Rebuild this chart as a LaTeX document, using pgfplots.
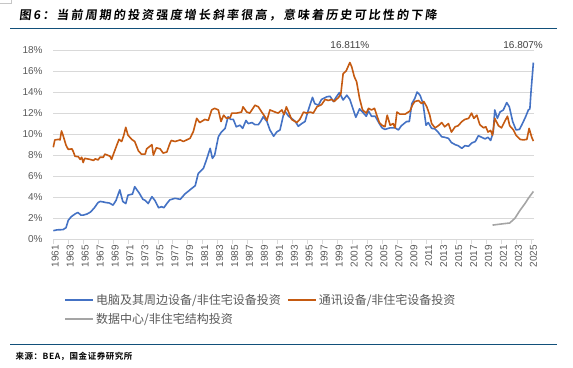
\documentclass[border=0pt]{standalone}
\usepackage{pgfplots}
\pgfplotsset{compat=1.18}
\usepackage{fontspec}
\setmainfont{Liberation Sans}
\newfontfamily\cjk{Noto Sans CJK SC}
\newfontfamily\cjktitle{Noto Sans CJK SC Bold}[FakeSlant=0.12, LetterSpace=18]
\newfontfamily\cjksrc{Noto Sans CJK SC Bold}[LetterSpace=6]

\definecolor{serA}{HTML}{4472C4}
\definecolor{serB}{HTML}{C55A11}
\definecolor{serC}{HTML}{A5A5A5}
\definecolor{gridgray}{HTML}{D9D9D9}
\definecolor{textgray}{HTML}{595959}
\definecolor{labgray}{HTML}{404040}
\definecolor{rulecol}{HTML}{12507A}

% computers & peripherals / nonresidential equipment investment (%)
\pgfplotstableread{
year val
1961.0 0.82
1961.5 0.90
1962.3 0.92
1962.7 1.10
1963.0 1.80
1963.4 2.15
1964.0 2.45
1964.3 2.55
1964.7 2.30
1965.0 2.30
1965.5 2.40
1966.0 2.60
1966.5 3.00
1967.0 3.50
1967.3 3.60
1967.7 3.55
1968.0 3.50
1968.5 3.45
1969.0 3.25
1969.4 3.70
1969.9 4.70
1970.3 3.60
1970.7 3.40
1971.0 4.20
1971.6 4.30
1971.9 5.00
1972.5 4.40
1973.0 3.80
1973.3 3.70
1973.7 3.40
1974.2 4.05
1974.6 3.70
1975.1 3.00
1975.5 3.10
1975.8 3.00
1976.2 3.40
1976.6 3.75
1977.3 3.90
1978.0 3.80
1978.6 4.30
1979.3 4.70
1980.0 5.10
1980.4 6.25
1981.1 6.75
1981.5 7.55
1982.0 8.65
1982.3 7.70
1982.6 8.00
1983.1 9.75
1983.5 10.20
1984.0 10.55
1984.4 11.65
1984.75 11.40
1985.1 11.40
1985.5 10.70
1986.0 10.85
1986.35 10.55
1986.8 11.30
1987.1 11.00
1987.6 11.10
1988.0 10.90
1988.45 10.90
1988.76 11.20
1989.1 11.65
1989.6 11.20
1990.0 10.40
1990.5 9.80
1990.9 10.20
1991.35 10.40
1991.8 11.80
1992.0 12.20
1992.5 11.70
1992.9 11.50
1993.4 11.20
1993.8 10.75
1994.25 11.00
1994.7 11.20
1995.1 12.20
1995.7 13.50
1996.0 12.90
1996.5 12.75
1996.9 13.30
1997.6 13.55
1998.05 13.60
1998.5 13.10
1998.9 13.55
1999.3 13.95
1999.8 13.25
2000.3 13.70
2000.7 13.30
2001.1 12.45
2001.5 11.60
2002.0 12.40
2002.4 12.10
2002.9 11.70
2003.2 12.20
2003.6 11.70
2004.1 11.70
2004.65 11.00
2005.0 10.60
2005.4 10.45
2006.1 10.60
2006.75 10.60
2007.2 10.40
2007.6 10.80
2008.3 11.20
2008.66 11.20
2009.0 12.90
2009.4 13.40
2009.7 14.00
2010.1 13.70
2010.5 12.90
2010.9 10.85
2011.2 11.10
2011.65 10.55
2012.1 10.50
2012.5 10.20
2013.0 9.75
2013.4 9.70
2013.9 9.60
2014.3 9.20
2014.8 9.00
2015.2 8.90
2015.7 8.65
2016.1 8.90
2016.6 8.85
2017.0 9.15
2017.5 9.30
2017.9 9.85
2018.35 9.70
2018.8 9.55
2019.2 9.70
2019.55 9.40
2019.9 10.20
2020.1 12.30
2020.45 11.50
2020.8 12.10
2021.25 12.30
2021.7 13.00
2022.05 12.60
2022.5 11.20
2022.95 10.40
2023.4 10.45
2023.7 10.85
2024.2 11.60
2024.6 12.30
2024.8 12.40
2024.95 14.00
2025.27 16.807
}\compdata

% communication equipment / nonresidential equipment investment (%)
\pgfplotstableread{
year val
1961.0 8.75
1961.2 9.45
1961.7 9.50
1961.9 9.45
1962.1 10.30
1962.3 9.90
1962.7 8.95
1963.0 8.55
1963.5 8.60
1963.7 8.30
1963.9 7.90
1964.35 7.85
1964.6 7.60
1964.8 7.80
1965.0 7.30
1965.2 7.70
1965.9 7.60
1966.4 7.50
1966.6 7.65
1967.0 7.55
1967.25 7.80
1967.7 7.80
1967.9 8.10
1968.6 7.90
1968.8 7.60
1969.0 8.00
1969.5 8.95
1969.8 9.50
1970.15 9.30
1970.4 9.80
1970.7 10.65
1971.0 9.90
1971.5 9.50
1971.9 9.30
1972.4 8.40
1972.8 8.10
1973.3 8.10
1973.5 8.60
1974.2 9.00
1974.4 8.00
1974.8 8.70
1975.3 8.60
1975.7 8.20
1976.2 8.30
1976.6 9.10
1976.8 9.40
1977.3 9.30
1978.0 9.45
1978.4 9.30
1979.3 9.60
1979.75 10.25
1980.2 11.50
1980.6 11.10
1981.3 11.40
1981.75 11.30
1982.2 12.30
1982.6 12.45
1983.1 12.30
1983.45 11.20
1983.8 11.80
1984.2 11.50
1984.7 11.60
1984.9 12.00
1985.55 12.00
1986.2 12.10
1986.4 12.60
1986.9 12.10
1987.3 12.00
1988.0 12.75
1988.45 12.60
1988.9 12.10
1989.3 11.70
1989.6 11.30
1990.0 12.30
1990.7 12.10
1991.1 12.00
1991.6 12.30
1991.9 11.85
1992.2 12.60
1992.5 12.10
1992.9 11.40
1993.6 11.10
1994.0 11.40
1994.5 12.10
1994.9 12.00
1995.4 12.10
1995.8 12.00
1996.3 12.60
1996.9 12.80
1997.4 13.30
1997.8 13.20
1998.3 13.30
1998.6 13.10
1999.2 13.50
1999.5 13.85
1999.8 15.75
2000.2 16.00
2000.7 16.811
2000.95 16.40
2001.3 15.45
2001.6 15.00
2002.0 13.40
2002.4 12.30
2002.9 12.00
2003.2 12.45
2003.6 12.30
2004.0 12.45
2004.3 11.80
2004.65 11.10
2005.0 10.85
2005.4 10.70
2005.7 11.80
2006.1 10.85
2006.5 11.00
2006.75 10.60
2007.0 12.10
2007.4 11.90
2008.1 11.90
2008.75 12.20
2009.1 12.80
2009.4 13.10
2009.9 13.20
2010.3 12.90
2010.6 13.10
2011.0 12.60
2011.4 11.80
2011.65 11.00
2012.1 10.60
2012.55 10.80
2013.0 11.10
2013.4 10.70
2013.9 11.00
2014.3 10.20
2014.8 10.70
2015.2 10.80
2015.7 11.20
2016.1 11.40
2016.6 11.50
2017.0 12.00
2017.3 11.50
2017.7 11.80
2018.1 10.90
2018.6 10.60
2018.9 10.70
2019.2 10.20
2019.55 10.35
2019.8 9.90
2020.1 11.50
2020.6 10.80
2021.0 10.60
2021.5 11.30
2021.8 11.70
2022.1 10.80
2022.6 10.40
2022.95 9.90
2023.5 9.50
2023.9 9.45
2024.4 9.50
2024.7 10.55
2025.05 9.70
2025.27 9.34
}\commdata

% data centres / nonresidential structures investment (%)
\pgfplotstableread{
year val
2019.8 1.35
2020.35 1.40
2021.25 1.48
2022.1 1.55
2022.8 2.00
2023.5 2.78
2024.15 3.40
2024.6 3.90
2025.27 4.55
}\dcdata

\begin{document}
\begin{tikzpicture}[x=1pt,y=1pt]
\path[use as bounding box] (0,0) rectangle (573,-367);

% header and footer
\draw[gray!45, line width=0.6pt] (0,-3.3) -- (11.7,-3.3) -- (11.7,0);
\node[anchor=west, inner sep=0pt, font=\cjktitle\fontsize{12}{14}\selectfont] at (19,-15) {图6：当前周期的投资强度增长斜率很高，意味着历史可比性的下降};
\draw[rulecol, line width=1.4pt] (10,-28.3) -- (557,-28.3);
\draw[rulecol, line width=1.4pt] (10,-344.3) -- (557,-344.3);
\node[anchor=west, inner sep=0pt, font=\cjksrc\fontsize{8.5}{10}\selectfont] at (15.5,-356.7) {来源：BEA，国金证券研究所};

\begin{axis}[
  at={(53.3pt,-239.3pt)}, anchor=south west,
  scale only axis, width=480.3pt, height=189.3pt,
  xmin=1961, xmax=2025.3, ymin=0, ymax=18,
  xtick={1961,1963,...,2025}, ytick={0,2,...,18},
  axis x line*=bottom, axis y line*=left,
  y axis line style={draw=none},
  x axis line style={draw=gridgray, line width=0.75pt},
  ymajorgrids, major grid style={draw=gridgray, line width=0.75pt},
  tick align=outside,
  ytick style={draw=none},
  xtick style={draw=gridgray, line width=0.75pt},
  major tick length=4.5pt,
  clip=false,
  /pgf/number format/assume math mode=true,
  /pgf/number format/1000 sep={},
  xticklabel style={rotate=90, anchor=east, font=\fontsize{10}{12}\selectfont, text=textgray, inner sep=1pt, yshift=-2pt},
  yticklabel style={font=\fontsize{10}{12}\selectfont, text=textgray, inner sep=1pt, xshift=-5pt},
  yticklabel={\pgfmathprintnumber{\tick}\%},
  legend style={
    at={(axis description cs:0.022,-0.28)}, anchor=north west,
    draw=none, fill=none, inner sep=0pt,
    font=\cjk\fontsize{12}{14}\selectfont, text=textgray,
    /tikz/every even column/.append style={column sep=4pt},
    row sep=3pt,
  },
  legend columns=2,
  legend cell align=left,
  legend image code/.code={\draw[#1, line width=2pt] (0pt,0pt) -- (28pt,0pt);},
]
\addplot[serA, line width=1.6pt, line join=round] table[x=year, y=val] {\compdata};
\addlegendentry{电脑及其周边设备/非住宅设备投资}
\addplot[serB, line width=1.6pt, line join=round] table[x=year, y=val] {\commdata};
\addlegendentry{通讯设备/非住宅设备投资}
\addplot[serC, line width=1.6pt, line join=round] table[x=year, y=val] {\dcdata};
\addlegendentry{数据中心/非住宅结构投资}

\node[font=\fontsize{10}{12}\selectfont, text=labgray] at (axis cs:2000.7,18.47) {16.811\%};
\node[font=\fontsize{10}{12}\selectfont, text=labgray] at (axis cs:2023.9,18.47) {16.807\%};
\end{axis}
\end{tikzpicture}
\end{document}
